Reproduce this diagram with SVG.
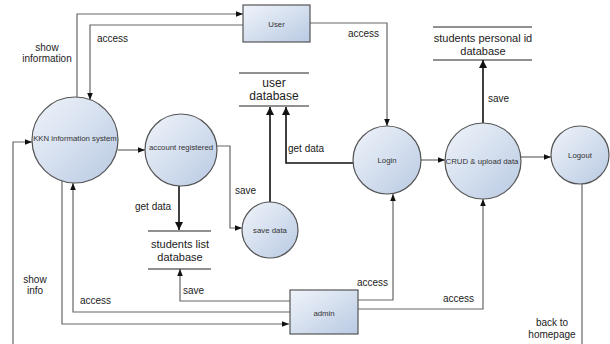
<svg xmlns="http://www.w3.org/2000/svg" width="610" height="344" viewBox="0 0 610 344">
<style>
.node{fill:url(#g);stroke:#555;stroke-width:1.2}
.nt{font-family:"Liberation Sans",Arial,sans-serif;font-size:7.8px;fill:#333;text-anchor:middle}
.lb{font-family:"Liberation Sans",Arial,sans-serif;font-size:10px;fill:#222}
.db{font-family:"Liberation Sans",Arial,sans-serif;font-size:11px;fill:#222;text-anchor:middle}
.dbl{stroke:#222;stroke-width:1.2}
.c{fill:none;stroke:#666;stroke-width:1.2;marker-end:url(#a)}
.k{fill:none;stroke:#111;stroke-width:1.6;marker-end:url(#b)}
</style>
<defs>
<linearGradient id="g" x1="0" y1="0" x2="1" y2="1">
<stop offset="0" stop-color="#f0f4fa"/>
<stop offset="1" stop-color="#b9cae3"/>
</linearGradient>
<marker id="a" viewBox="0 0 10 10" refX="10" refY="5" markerWidth="7" markerHeight="7" markerUnits="userSpaceOnUse" orient="auto">
<path d="M0,1 L10,5 L0,9 Z" fill="#111"/>
</marker>
<marker id="b" viewBox="0 0 10 10" refX="10" refY="5" markerWidth="8" markerHeight="8" markerUnits="userSpaceOnUse" orient="auto">
<path d="M0,0 L10,5 L0,10 Z" fill="#111"/>
</marker>
</defs>
<rect width="610" height="344" fill="#fff"/>
<g id="connectors">
<path class="c" d="M77,97 V14 H243"/>
<path class="c" d="M243,25 H90 V100"/>
<path class="c" d="M310,23 H387 V126"/>
<path class="c" d="M118,150 H145"/>
<path class="c" d="M215,146 H230 V228 H242"/>
<path class="k" d="M179,186 V230"/>
<path class="k" d="M270,202 V107"/>
<path class="k" d="M353,163 H286 V107"/>
<path class="c" d="M421,160 H445"/>
<path class="c" d="M521,157 H551"/>
<path class="k" d="M483,123 V60"/>
<path class="c" d="M290,301 H180 V269"/>
<path class="c" d="M290,312 H73 V183"/>
<path class="c" d="M62,181 V324 H289"/>
<path class="c" d="M13,346 V142 H32"/>
<path class="c" d="M358,300 H393 V194"/>
<path class="c" d="M358,309 H483 V199"/>
<path class="c" d="M582,184 V346" style="marker-end:none"/>
<text class="lb" x="47" y="51" text-anchor="middle">show</text>
<text class="lb" x="47" y="62" text-anchor="middle">information</text>
<text class="lb" x="97" y="42">access</text>
<text class="lb" x="348" y="37">access</text>
<text class="lb" x="235" y="193.5">save</text>
<text class="lb" x="135" y="209.5">get data</text>
<text class="lb" x="288" y="151.5">get data</text>
<text class="lb" x="488" y="102">save</text>
<text class="lb" x="35" y="282.5" text-anchor="middle">show</text>
<text class="lb" x="35" y="293.5" text-anchor="middle">info</text>
<text class="lb" x="80" y="303.5">access</text>
<text class="lb" x="183" y="293.5">save</text>
<text class="lb" x="357" y="285.5">access</text>
<text class="lb" x="443" y="301.5">access</text>
<text class="lb" x="552" y="325.5" text-anchor="middle">back to</text>
<text class="lb" x="552" y="337.5" text-anchor="middle">homepage</text>
</g>
<g id="user">
<rect class="node" x="243" y="5" width="67" height="37"/>
<text class="nt" x="276.5" y="26.5">User</text>
</g>
<g id="admin">
<rect class="node" x="290" y="290" width="68" height="44"/>
<text class="nt" x="324" y="315.5">admin</text>
</g>
<g id="kkn">
<circle class="node" cx="75" cy="140" r="43"/>
<text class="nt" x="75" y="141">KKN information system</text>
</g>
<g id="account-registered">
<circle class="node" cx="181" cy="150" r="36"/>
<text class="nt" x="181" y="149.5">account registered</text>
</g>
<g id="save-data">
<circle class="node" cx="270" cy="230" r="28"/>
<text class="nt" x="270" y="232.5">save data</text>
</g>
<g id="login">
<circle class="node" cx="387" cy="160" r="34"/>
<text class="nt" x="387" y="162.5">Login</text>
</g>
<g id="crud">
<circle class="node" cx="483" cy="161" r="38"/>
<text class="nt" x="482" y="164">CRUD &amp; upload data</text>
</g>
<g id="logout">
<circle class="node" cx="580" cy="155" r="29"/>
<text class="nt" x="580" y="157.5">Logout</text>
</g>
<g id="user-database">
<line class="dbl" x1="239" y1="73" x2="309" y2="73"/>
<line class="dbl" x1="239" y1="106" x2="309" y2="106"/>
<text class="db" x="274" y="87" style="font-size:12px">user</text>
<text class="db" x="274" y="100" style="font-size:12px">database</text>
</g>
<g id="students-list-database">
<line class="dbl" x1="148" y1="231" x2="211" y2="231"/>
<line class="dbl" x1="148" y1="269" x2="211" y2="269"/>
<text class="db" x="180" y="248">students list</text>
<text class="db" x="180" y="261">database</text>
</g>
<g id="students-personal-id-database">
<line class="dbl" x1="433" y1="27" x2="532" y2="27"/>
<line class="dbl" x1="433" y1="60" x2="532" y2="60"/>
<text class="db" x="483" y="42">students personal id</text>
<text class="db" x="483" y="55">database</text>
</g>
</svg>
